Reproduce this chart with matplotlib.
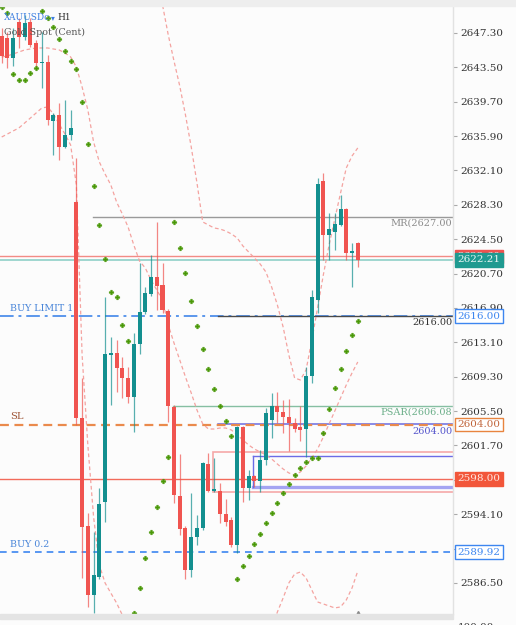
import numpy as np
import matplotlib
matplotlib.use('Agg')
import matplotlib.pyplot as plt
from matplotlib.transforms import blended_transform_factory
from matplotlib.patches import Rectangle

plt.rcParams['font.family'] = ['DejaVu Serif', 'DejaVu Sans']

# ---------------- data ----------------
opens = [2647.00, 2646.75, 2644.54, 2648.50, 2646.86, 2648.50, 2646.20, 2643.93, 2644.09, 2637.57,
         2638.24, 2634.70, 2636.02, 2628.62, 2604.74, 2592.80, 2585.17, 2587.16, 2595.45, 2611.70,
         2611.92, 2610.26, 2609.16, 2607.06, 2612.92, 2616.46, 2618.45, 2620.33, 2619.44, 2616.57,
         2605.95, 2596.12, 2592.58, 2587.94, 2591.58, 2592.58, 2599.65, 2596.67, 2596.67, 2594.13,
         2593.46, 2590.70, 2603.74, 2597.00, 2598.33, 2597.77, 2600.10, 2604.52, 2606.07, 2605.40,
         2604.85, 2604.19, 2603.74, 2603.52, 2609.38, 2617.78, 2630.94, 2624.97, 2625.30, 2626.07,
         2627.84, 2622.98, 2624.08]
highs = [2647.90, 2647.40, 2647.85, 2648.96, 2649.30, 2648.96, 2646.50, 2647.40, 2644.87, 2638.46,
         2639.56, 2639.89, 2638.79, 2633.48, 2609.16, 2594.24, 2592.17, 2597.03, 2618.15, 2613.73,
         2613.36, 2611.52, 2610.41, 2614.17, 2621.87, 2619.22, 2622.76, 2626.41, 2621.87, 2616.80,
         2606.17, 2600.76, 2592.80, 2596.45, 2594.01, 2599.87, 2600.87, 2600.32, 2597.55, 2595.78,
         2593.80, 2603.85, 2603.85, 2598.99, 2598.44, 2601.20, 2605.84, 2607.50, 2607.61, 2606.73,
         2606.84, 2604.74, 2606.07, 2610.38, 2618.89, 2631.27, 2631.82, 2627.40, 2627.40, 2629.39,
         2627.95, 2624.08, 2624.20]
lows = [2644.00, 2643.43, 2643.65, 2645.64, 2646.50, 2645.75, 2643.54, 2641.22, 2637.13, 2633.81,
        2633.26, 2634.59, 2635.47, 2603.97, 2587.05, 2583.79, 2583.20, 2586.90, 2593.27, 2606.17,
        2607.65, 2606.95, 2606.40, 2603.23, 2611.81, 2616.24, 2618.23, 2616.68, 2616.35, 2604.30,
        2595.34, 2591.80, 2586.94, 2587.16, 2590.70, 2592.36, 2596.56, 2596.56, 2593.13, 2592.80,
        2590.48, 2589.81, 2595.45, 2595.68, 2597.11, 2596.56, 2599.50, 2602.53, 2604.19, 2603.08,
        2601.09, 2603.19, 2602.20, 2600.43, 2608.61, 2616.35, 2622.21, 2622.21, 2623.31, 2625.96,
        2622.21, 2619.22, 2621.43]
closes = [2644.80, 2644.54, 2646.75, 2646.86, 2648.40, 2645.97, 2643.98, 2644.04, 2637.68, 2638.24,
          2634.70, 2636.02, 2636.80, 2604.74, 2592.69, 2585.17, 2587.38, 2595.23, 2611.81, 2611.92,
          2610.26, 2609.16, 2607.06, 2612.92, 2616.50, 2618.56, 2620.33, 2619.33, 2616.68, 2606.07,
          2596.23, 2592.47, 2587.94, 2591.58, 2592.58, 2599.76, 2596.67, 2596.89, 2594.13, 2593.24,
          2590.70, 2603.74, 2597.00, 2598.33, 2597.77, 2600.10, 2605.29, 2606.07, 2605.40, 2604.85,
          2604.19, 2603.52, 2603.41, 2609.38, 2618.11, 2630.61, 2624.97, 2625.63, 2626.18, 2627.84,
          2622.98, 2623.20, 2622.21]

psar = [2650.20, 2649.54, 2642.77, 2642.10, 2642.10, 2642.88, 2643.43, 2649.73, 2648.96, 2647.96,
        2646.64, 2645.31, 2644.20, 2643.32, 2639.67, 2635.03, 2630.39, 2626.07, 2622.32, 2618.67,
        2618.11, 2615.02, 2613.25, 2583.18, 2585.95, 2589.26, 2592.14, 2594.90, 2597.77, 2600.43,
        2626.41, 2623.53, 2620.77, 2617.67, 2614.91, 2612.37, 2610.16, 2607.94, 2606.07, 2604.41,
        2602.75, 2586.94, 2588.38, 2589.48, 2590.81, 2591.92, 2593.13, 2594.24, 2595.34, 2596.45,
        2597.44, 2598.44, 2599.21, 2599.87, 2600.32, 2600.32, 2603.08, 2605.73, 2608.05, 2610.16,
        2612.15, 2613.92, 2615.46]

nan = np.nan
bb_upper = [nan] * 27 + [2654.04, 2650.40, 2647.08, 2644.20, 2641.44, 2638.23, 2634.70, 2630.72, 2626.41,
                         2626.07, 2625.74, 2625.63, 2625.41, 2625.08, 2624.64, 2623.75, 2623.09, 2622.43,
                         2621.76, 2620.88, 2619.22, 2617.23, 2614.80, 2611.70, 2609.16, 2608.94, 2610.05,
                         2613.36, 2616.90, 2620.55, 2623.86, 2626.74, 2629.61, 2632.38, 2633.70, 2634.59]
bb_mid = [2644.65, 2644.76, 2644.98, 2645.20, 2645.42, 2645.53, 2645.64, 2645.64, 2645.64, 2645.53,
          2645.42, 2645.09, 2644.65, 2643.54, 2641.33, 2638.79, 2635.25, 2633.04, 2631.71, 2630.50,
          2628.62, 2627.29, 2625.86, 2623.86, 2622.09, 2621.32, 2619.99, 2618.89, 2617.78, 2615.02,
          2613.03, 2611.15, 2609.27, 2607.50, 2605.62, 2604.08, 2603.52, 2603.52, 2603.63, 2603.63,
          2603.41, 2602.86, 2602.31, 2601.75, 2601.31, 2600.98, 2600.65, 2600.21, 2599.65, 2599.10,
          2598.66, 2598.44, 2598.77, 2599.43, 2600.32, 2601.31, 2602.64, 2604.08, 2605.51, 2606.95,
          2608.39, 2609.72, 2610.93]
bb_lower = [2635.80, 2636.13, 2636.47, 2636.80, 2637.35, 2637.90, 2638.46, 2639.01, 2639.12, 2638.35,
            2637.24, 2636.14, 2634.92, 2630.50, 2611.70, 2601.75, 2593.79, 2588.49, 2586.50, 2585.39,
            2584.29, 2582.96, 2581.30] + [nan] * 24 + \
           [2581.30, 2583.29, 2584.84, 2586.50, 2587.49, 2587.71, 2587.05, 2585.72, 2584.40, 2584.18,
            2583.96, 2583.74, 2583.85, 2584.62, 2585.95, 2587.82]

yticks = [2647.30, 2643.50, 2639.70, 2635.90, 2632.10, 2628.30, 2624.50, 2620.70, 2616.90,
          2613.10, 2609.30, 2605.50, 2601.70, 2597.90, 2594.10, 2590.30, 2586.50]

bid_price = 2622.21
ask_price = 2622.60
mr_level = 2627.00
buy_limit = 2616.00
psar_level = 2606.08
sl_level = 2604.00
red_level = 2598.00
buy_level = 2589.92
pink_box = (2596.56, 2600.98)
blue_box = (2597.11, 2600.54)

symbol = "XAUUSDc"
timeframe = "H1"
description = "Gold Spot (Cent)"

# ---------------- figure ----------------
W, H = 516, 625
fig = plt.figure(figsize=(W / 100, H / 100), dpi=100, facecolor='#fcfcfc')
ax = fig.add_axes([0, 11 / H, 453 / W, 608 / H])
ax.set_facecolor('#fcfcfc')
ax.set_xlim(-0.296, 78.58)
ax.set_ylim(2583.07, 2650.28)
trans = blended_transform_factory(ax.transAxes, ax.transData)

teal = '#138f8f'
red = '#f05450'
n = len(opens)
x = np.arange(n)
o = np.array(opens); c = np.array(closes); h = np.array(highs); l = np.array(lows)
up = c >= o
cols = np.where(up, teal, red)

# bands
band_kw = dict(color='#f4a3a0', lw=0.9, dashes=(3, 2.2), zorder=2)
ax.plot(x, bb_upper, **band_kw)
ax.plot(x, bb_mid, **band_kw)
ax.plot(x, bb_lower, **band_kw)

# horizontal levels
ax.axhline(ask_price, color='#f28b86', lw=1.0, zorder=1.5)
ax.axhline(bid_price, color='#8fd0c8', lw=1.2, zorder=1.5)
ax.plot([15.9, 80], [mr_level] * 2, color='#9a9a9a', lw=1.0, zorder=1.5)
ax.axhline(buy_limit, color='#5b97ec', lw=1.4, dashes=(7, 2.5, 1.5, 2.5), zorder=1.6)
ax.plot([37.66, 80], [buy_limit] * 2, color='#4a4a4a', lw=1.0, zorder=1.7)
ax.plot([29.8, 80], [psar_level] * 2, color='#86bfa2', lw=1.0, zorder=1.5)
ax.plot([37.66, 80], [sl_level + 0.12] * 2, color='#6a6ae0', lw=1.1, zorder=1.5)
ax.axhline(sl_level, color='#ea8a4c', lw=1.6, dashes=(4, 2.5), zorder=1.6)
ax.axhline(red_level, color='#f26b5b', lw=1.0, zorder=1.5)
ax.axhline(buy_level, color='#3d86f0', lw=1.2, dashes=(4, 3), zorder=1.6)
ax.add_patch(Rectangle((36.8, pink_box[0]), 50, pink_box[1] - pink_box[0], fill=False,
                       ec='#f5a8a8', lw=1.2, zorder=1.4))
ax.plot([43.75, 80], [blue_box[1]] * 2, color='#6c6ce6', lw=1.0, zorder=1.45)
ax.plot([43.75, 80], [blue_box[0]] * 2, color='#a4a4f2', lw=2.4, zorder=1.45)
ax.plot([43.75, 43.75], list(blue_box), color='#6c6ce6', lw=1.0, zorder=1.45)

# candles
ax.vlines(x, l, h, colors=cols, lw=0.9, alpha=0.7, zorder=3)
body_lo = np.minimum(o, c)
body_h = np.maximum(np.abs(c - o), 0.12)
ax.bar(x, body_h, bottom=body_lo, width=0.7, color=cols, lw=0, zorder=4)

# PSAR
ax.plot(x, psar, ls='none', marker='P', ms=3.4, color='#4a9808', mec='#4a9808', mew=0.3,
        zorder=5, clip_on=True)

# texts inside plot
ax.annotate('BUY LIMIT 1', xy=(1.45, buy_limit), xytext=(0, 2.5), textcoords='offset points',
            fontsize=6.8, color='#4a86d9', ha='left', va='bottom', zorder=6)
ax.annotate('SL', xy=(1.45, sl_level), xytext=(0, 2.5), textcoords='offset points',
            fontsize=7.2, color='#a0583a', ha='left', va='bottom', zorder=6)
ax.annotate('BUY 0.2', xy=(1.45, buy_level), xytext=(0, 2.5), textcoords='offset points',
            fontsize=6.8, color='#4a86d9', ha='left', va='bottom', zorder=6)

def right_note(txt, level, color):
    ax.annotate(txt, xy=(0.998, level), xycoords=trans, xytext=(0, -1.5), textcoords='offset points',
                fontsize=7, color=color, ha='right', va='top', zorder=6)

right_note('MR(2627.00', mr_level, '#8a8a8a')
right_note('2616.00', buy_limit, '#333333')
right_note('PSAR(2606.08', psar_level, '#6aae88')
right_note('2604.00', sl_level, '#5555cc')

# title
fig.text(4 / W, 1 - 18 / H, symbol, color='#3d7fe0', fontsize=6.5, ha='left', va='center')
fig.text(51 / W, 1 - 18 / H, '▾', color='#3d7fe0', fontsize=5.5, ha='left', va='center',
         family='DejaVu Sans')
fig.text(57 / W, 1 - 18 / H, timeframe, color='#333333', fontsize=6.5, ha='left', va='center')
fig.text(4 / W, 1 - 32 / H, description, color='#555555', fontsize=6.8, ha='left', va='center')

# right axis
for s in ['left', 'top', 'bottom']:
    ax.spines[s].set_visible(False)
ax.spines['right'].set_color('#e2e2e2')
ax.spines['right'].set_linewidth(1.0)
ax.yaxis.tick_right()
ax.set_yticks(yticks)
ax.set_yticklabels([f'{t:.2f}' for t in yticks])
ax.tick_params(axis='y', length=3, width=0.8, color='#aaaaaa', pad=2, labelsize=7.5,
               labelcolor='#333333')
ax.set_xticks([])

def price_box(txt, level, fc, ec, tc, z=10):
    ax.text(1.0095, level, txt, transform=trans, ha='left', va='center', fontsize=7.5, color=tc,
            bbox=dict(boxstyle='square,pad=0.22', fc=fc, ec=ec, lw=1.0), zorder=z, clip_on=False)

price_box(f'{ask_price:.2f}', ask_price, '#ef5350', '#ef5350', '#ffffff', z=9)
price_box(f'{bid_price:.2f}', bid_price, '#1f9a90', '#1f9a90', '#e8f6f4', z=10)
price_box(f'{buy_limit:.2f}', buy_limit, '#ffffff', '#3d86f0', '#3d86f0')
price_box(f'{sl_level:.2f}', sl_level, '#ffffff', '#e8843e', '#c0643a')
price_box(f'{red_level:.2f}', red_level, '#f2563a', '#f2563a', '#ffe6e0')
price_box(f'{buy_level:.2f}', buy_level, '#ffffff', '#3d86f0', '#3d86f0')

# last-bar marker at the bottom
ax.plot([n - 1], [0.0], marker='^', ms=5, color='#888888',
        transform=blended_transform_factory(ax.transData, ax.transAxes), clip_on=False, zorder=7)

# frame decorations
fig.patches.append(Rectangle((0, 1 - 6 / H), 1, 6 / H, transform=fig.transFigure, color='#eeeeee', zorder=0))
fig.patches.append(Rectangle((0, 6 / H), 453 / W, 5 / H, transform=fig.transFigure, color='#e4e4e4', zorder=0))
fig.text(458 / W, 1 - 627 / H, '100.00', fontsize=7.5, color='#333333', ha='left', va='center')

fig.savefig('out.png', dpi=100, facecolor=fig.get_facecolor())
